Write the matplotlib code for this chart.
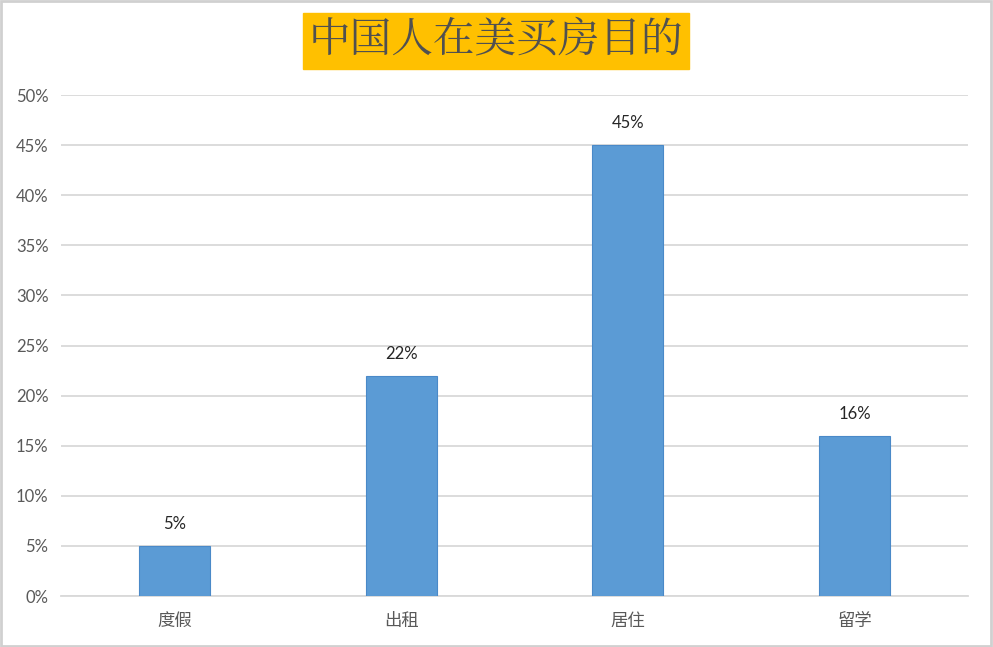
import matplotlib
matplotlib.use('Agg')
import matplotlib.pyplot as plt
from matplotlib.patches import Rectangle
import numpy as np

categories = ['度假', '出租', '居住', '留学']
values = [0.05, 0.22, 0.45, 0.16]
yticks = [0, 0.05, 0.10, 0.15, 0.20, 0.25, 0.30, 0.35, 0.40, 0.45, 0.50]
title = '中国人在美买房目的'

plt.rcParams['font.family'] = ['Lato', 'Noto Sans CJK SC', 'DejaVu Sans']

fig = plt.figure(figsize=(9.93, 6.47), dpi=100)
ax = fig.add_axes([0.0614, 0.0788, 0.9136, 0.7743])

x = np.arange(len(categories))
ax.bar(x, values, width=0.313, color='#5B9BD5', edgecolor='#4A89C8', linewidth=0.8, zorder=3)

for xi, v in zip(x, values):
    ax.text(xi, v + 0.022, '{:.0f}%'.format(v * 100), ha='center', va='center',
            fontsize=12, color='#262626')

ax.set_xlim(-0.5, len(categories) - 0.5)
ax.set_ylim(0, 0.5)
ax.set_yticks(yticks)
ax.set_yticklabels(['{:.0f}%'.format(t * 100) for t in yticks], fontsize=12, color='#595959')
ax.set_xticks(x)
ax.set_xticklabels(categories, fontsize=12.5, color='#595959')
ax.tick_params(axis='both', length=0, pad=9)
ax.tick_params(axis='x', pad=12)
ax.grid(axis='y', color='#D9D9D9', linewidth=1.3, zorder=0)
for s in ['top', 'right', 'left']:
    ax.spines[s].set_visible(False)
ax.spines['bottom'].set_color('#D9D9D9')
ax.spines['bottom'].set_linewidth(1.3)

# title box
fig.text(0.4995, 0.9366, title, ha='center', va='center', fontsize=30, color='#505050',
         family=['Noto Serif CJK SC', 'Noto Sans CJK SC'],
         bbox=dict(boxstyle='square,pad=0.13', facecolor='#FFC000', edgecolor='#FFC000'))

# outer border
fig.patches.append(Rectangle((0.001, 0.001), 0.997, 0.997, transform=fig.transFigure,
                             fill=False, edgecolor='#D0D0D0', linewidth=2))

fig.savefig('out.png', dpi=100, facecolor='white')
